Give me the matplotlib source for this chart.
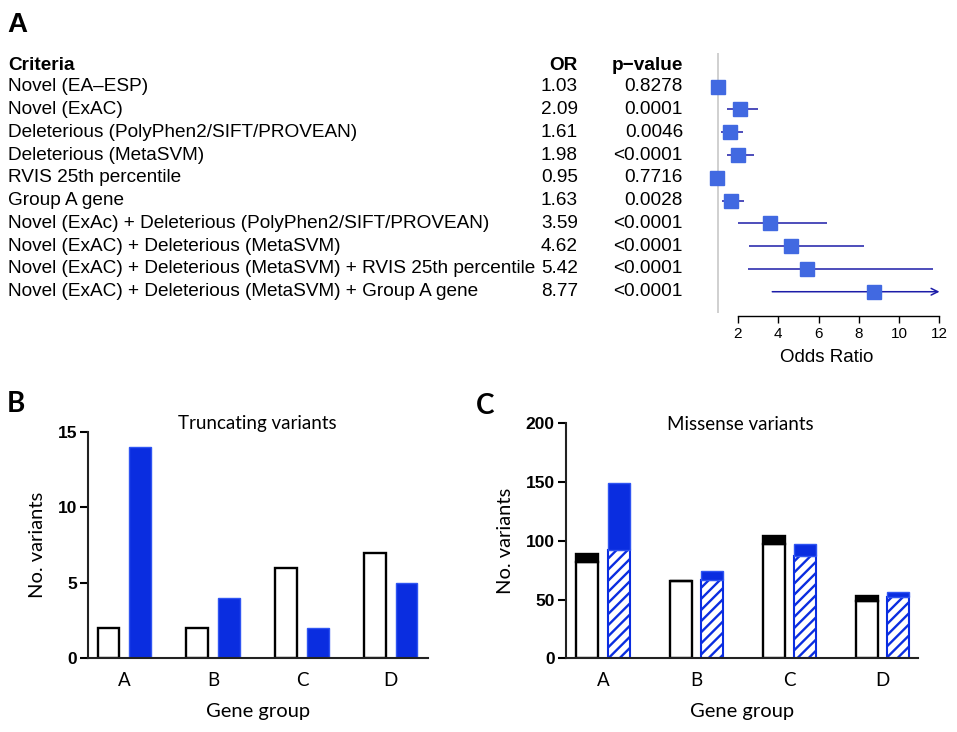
import matplotlib
matplotlib.use('Agg')
import matplotlib.pyplot as plt
import matplotlib.transforms as mtrans
import numpy as np

# ---------------- data ----------------
criteria = [
    "Novel (EA\u2013ESP)",
    "Novel (ExAC)",
    "Deleterious (PolyPhen2/SIFT/PROVEAN)",
    "Deleterious (MetaSVM)",
    "RVIS 25th percentile",
    "Group A gene",
    "Novel (ExAc) + Deleterious (PolyPhen2/SIFT/PROVEAN)",
    "Novel (ExAC) + Deleterious (MetaSVM)",
    "Novel (ExAC) + Deleterious (MetaSVM) + RVIS 25th percentile",
    "Novel (ExAC) + Deleterious (MetaSVM) + Group A gene",
]
odds_ratio = [1.03, 2.09, 1.61, 1.98, 0.95, 1.63, 3.59, 4.62, 5.42, 8.77]
or_labels = ["1.03", "2.09", "1.61", "1.98", "0.95", "1.63", "3.59", "4.62", "5.42", "8.77"]
p_values = ["0.8278", "0.0001", "0.0046", "<0.0001", "0.7716", "0.0028",
            "<0.0001", "<0.0001", "<0.0001", "<0.0001"]
ci_low = [0.80, 1.47, 1.16, 1.44, 0.70, 1.21, 2.02, 2.56, 2.51, 3.70]
ci_high = [1.42, 3.01, 2.26, 2.79, 1.32, 2.30, 6.40, 8.25, 11.66, 13.5]
or_ticks = [2, 4, 6, 8, 10, 12]
or_axis_max = 12
ref_or = 1

groups = ["A", "B", "C", "D"]
trunc_control = [2, 2, 6, 7]
trunc_case = [14, 4, 2, 5]
trunc_ticks = [0, 5, 10, 15]
mis_control_base = [82, 66, 97, 49]
mis_control_top = [7, 0, 7, 4]
mis_case_hatched = [92, 67, 87, 52]
mis_case_top = [57, 7, 10, 4]
mis_ticks = [0, 50, 100, 150, 200]

# ---------------- style ----------------
W, H = 957, 732
plt.rcParams['hatch.linewidth'] = 1.7
fig = plt.figure(figsize=(W / 100, H / 100), dpi=100)

HELV = "Liberation Sans"
CAL = "Lato"
BLUE = "#0a2de0"
BLUE_EDGE = "#2f55f2"
SQ = "#4169e1"
NAVY = "#1c1ca8"


def fx(px):
    return px / W


def fy(py):
    return 1 - py / H


# ---------------- Panel A ----------------
row0, drow = 86.7, 22.78
top_px, bot_px = 53, 316
ymin_d = (top_px - row0) / drow
ymax_d = (bot_px - row0) / drow
x0_px, unit = 738, 20.15
xl, xr = 0.5, 12.3
left_px = x0_px + (xl - 2) * unit
right_px = x0_px + (xr - 2) * unit
axA = fig.add_axes([fx(left_px), fy(bot_px), (right_px - left_px) / W, (bot_px - top_px) / H])
axA.set_xlim(xl, xr)
axA.set_ylim(ymax_d, ymin_d)
rows = np.arange(len(criteria))

axA.vlines(ref_or, ymin_d, (313 - row0) / drow, color="#c8c8c8", lw=1.2, zorder=1)
for r, lo, hi in zip(rows, ci_low, ci_high):
    if hi > or_axis_max:
        axA.annotate("", xy=(or_axis_max, r), xytext=(lo, r),
                     arrowprops=dict(arrowstyle="->", color=NAVY, lw=1.1,
                                     shrinkA=0, shrinkB=0, mutation_scale=12))
    else:
        axA.hlines(r, lo, hi, color=NAVY, lw=1.1, zorder=2)
axA.plot(odds_ratio, rows, "s", ms=10.5, color=SQ, mec=SQ, zorder=3)

for s in ["left", "right", "top"]:
    axA.spines[s].set_visible(False)
axA.spines["bottom"].set_bounds(or_ticks[0], or_ticks[-1])
axA.spines["bottom"].set_linewidth(1.0)
axA.set_yticks([])
axA.set_xticks(or_ticks)
axA.tick_params(axis="x", direction="out", length=5, width=1.0, labelsize=11, pad=3)
for lab in axA.get_xticklabels():
    lab.set_fontfamily(HELV)
axA.set_xlabel("Odds Ratio", fontsize=13.5, fontfamily=HELV, labelpad=6)
axA.patch.set_visible(False)

trA = mtrans.blended_transform_factory(fig.transFigure, axA.transData)
hdr = (65 - row0) / drow
fs = 13.7
axA.text(fx(8), hdr, "Criteria", transform=trA, fontsize=fs, fontweight="bold",
         fontfamily=HELV, va="center", ha="left", clip_on=False)
axA.text(fx(578), hdr, "OR", transform=trA, fontsize=fs, fontweight="bold",
         fontfamily=HELV, va="center", ha="right", clip_on=False)
axA.text(fx(683), hdr, "p\u2212value", transform=trA, fontsize=fs, fontweight="bold",
         fontfamily=HELV, va="center", ha="right", clip_on=False)
for r, c, o, p in zip(rows, criteria, or_labels, p_values):
    axA.text(fx(8), r, c, transform=trA, fontsize=fs, fontfamily=HELV,
             va="center", ha="left", clip_on=False)
    axA.text(fx(578), r, o, transform=trA, fontsize=fs, fontfamily=HELV,
             va="center", ha="right", clip_on=False)
    axA.text(fx(683), r, p, transform=trA, fontsize=fs, fontfamily=HELV,
             va="center", ha="right", clip_on=False)

fig.text(fx(7), fy(25), "A", fontsize=20, fontweight="bold", fontfamily=HELV,
         va="center", ha="left")


# ---------------- common bar axes styling ----------------
def style_bar_axes(ax, ticks):
    for s in ["right", "top"]:
        ax.spines[s].set_visible(False)
    for s in ["left", "bottom"]:
        ax.spines[s].set_linewidth(1.5)
        ax.spines[s].set_color("#222222")
    ax.set_yticks(ticks)
    ax.tick_params(axis="y", direction="out", length=6, width=1.5, labelsize=12.5, pad=2)
    ax.tick_params(axis="x", length=0, labelsize=13, pad=10)
    for lab in ax.get_yticklabels():
        lab.set_fontfamily(HELV)
        lab.set_fontweight("bold")
    ax.set_xticks(np.arange(len(groups)))
    ax.set_xticklabels(groups, fontfamily=CAL, fontsize=13.5)


# ---------------- Panel B ----------------
bl, br, bt, bb = 88, 428, 431.7, 658.3
axB = fig.add_axes([fx(bl), fy(bb), (br - bl) / W, (bb - bt) / H])
x = np.arange(len(groups))
off, bw = 0.178, 0.245
axB.bar(x - off, trunc_control, bw, facecolor="white", edgecolor="black", lw=1.7, zorder=2)
axB.bar(x + off, trunc_case, bw, facecolor=BLUE, edgecolor=BLUE_EDGE, lw=1.0, zorder=2)
axB.set_xlim(-0.41, 3.42)
axB.set_ylim(0, 15)
style_bar_axes(axB, trunc_ticks)
axB.set_ylabel("No. variants", fontfamily=CAL, fontsize=14.5, labelpad=8)
axB.set_xlabel("Gene group", fontfamily=CAL, fontsize=14.5, labelpad=10)
axB.text(0.497, 1.035, "Truncating variants", transform=axB.transAxes, ha="center",
         va="center", fontfamily=CAL, fontsize=13.5)
fig.text(fx(7), fy(404), "B", fontsize=20, fontweight="bold", fontfamily=CAL,
         va="center", ha="left")

# ---------------- Panel C ----------------
cl, cr, ct, cb = 565.7, 918.3, 423.3, 658.3
axC = fig.add_axes([fx(cl), fy(cb), (cr - cl) / W, (cb - ct) / H])
offc, bwc = 0.167, 0.235
axC.bar(x - offc, mis_control_base, bwc, facecolor="white", edgecolor="black", lw=1.7, zorder=2)
axC.bar(x - offc, mis_control_top, bwc, bottom=mis_control_base, facecolor="black",
        edgecolor="black", lw=1.7, zorder=2)
axC.bar(x + offc, mis_case_hatched, bwc, facecolor="white", edgecolor=BLUE, hatch="///",
        lw=1.5, zorder=2)
axC.bar(x + offc, mis_case_top, bwc, bottom=mis_case_hatched, facecolor=BLUE,
        edgecolor=BLUE_EDGE, lw=1.0, zorder=2)
axC.set_xlim(-0.40, 3.38)
axC.set_ylim(0, 200)
style_bar_axes(axC, mis_ticks)
axC.set_ylabel("No. variants", fontfamily=CAL, fontsize=14.5, labelpad=8)
axC.set_xlabel("Gene group", fontfamily=CAL, fontsize=14.5, labelpad=10)
axC.text(0.494, 0.993, "Missense variants", transform=axC.transAxes, ha="center",
         va="center", fontfamily=CAL, fontsize=13.5)
fig.text(fx(476), fy(406), "C", fontsize=20, fontweight="bold", fontfamily=CAL,
         va="center", ha="left")

fig.savefig("out.png", dpi=100)
